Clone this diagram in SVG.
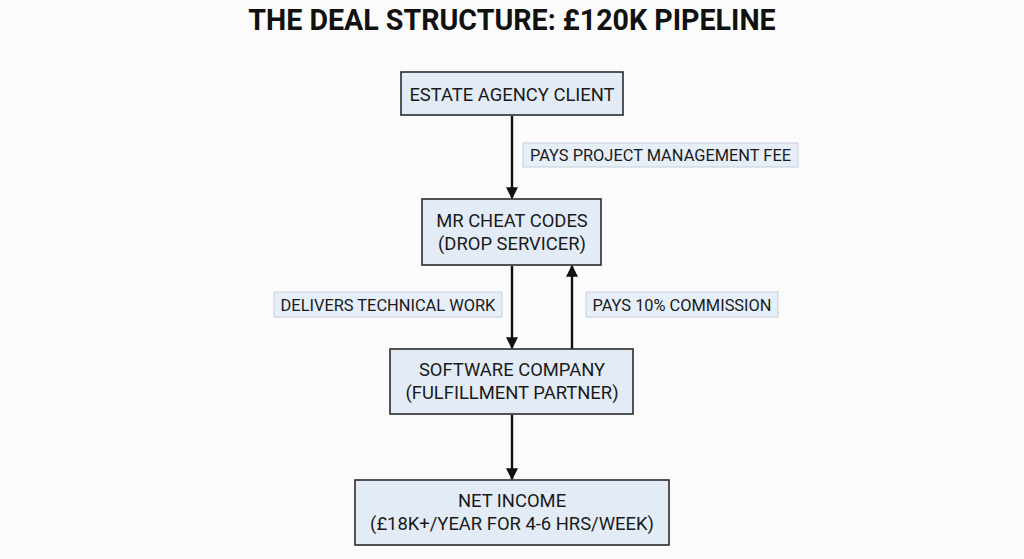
<svg xmlns="http://www.w3.org/2000/svg" width="1024" height="559" viewBox="0 0 1024 559">
<defs>
<style>
.node rect{fill:#e3ecf6;stroke:#2b2b2b;stroke-width:1.6}
.node text{font-family:Roboto,"Liberation Sans",sans-serif;font-size:18.4px;fill:#1a1a1a;text-anchor:middle}
.lbl rect{fill:#e6eef8;stroke:#c5cfdb;stroke-width:1}
.lbl text{font-family:Roboto,"Liberation Sans",sans-serif;font-size:16.4px;fill:#1a1a1a;text-anchor:middle}
.edge{stroke:#111;stroke-width:2.4;fill:none;marker-end:url(#ah)}
</style>
<marker id="ah" viewBox="0 0 10 10" refX="9" refY="5" markerWidth="5" markerHeight="5" orient="auto" markerUnits="strokeWidth">
<path d="M0,0 L10,5 L0,10 z" fill="#111"/>
</marker>
</defs>
<rect width="1024" height="559" fill="#fbfbfb"/>
<text x="512" y="30" font-family="Roboto,'Liberation Sans',sans-serif" font-weight="bold" font-size="28.6" text-anchor="middle" fill="#111">THE DEAL STRUCTURE: £120K PIPELINE</text>
<g id="connectors">
<line class="edge" x1="512" y1="116" x2="512" y2="198"/>
<line class="edge" x1="512" y1="266" x2="512" y2="348"/>
<line class="edge" x1="572" y1="349" x2="572" y2="266"/>
<line class="edge" x1="512" y1="415" x2="512" y2="479"/>
</g>
<g id="label-fee" class="lbl"><rect x="523" y="143" width="275" height="24"/><text x="660.5" y="161">PAYS PROJECT MANAGEMENT FEE</text></g>
<g id="label-work" class="lbl"><rect x="274" y="292" width="228" height="25"/><text x="388" y="310.5">DELIVERS TECHNICAL WORK</text></g>
<g id="label-comm" class="lbl"><rect x="586" y="292" width="192" height="25"/><text x="682" y="310.5">PAYS 10% COMMISSION</text></g>
<g id="client" class="node"><rect x="401" y="72" width="222" height="43"/><text x="512" y="100.5">ESTATE AGENCY CLIENT</text></g>
<g id="mrcheat" class="node"><rect x="422" y="199" width="179" height="66"/><text x="512" y="227">MR CHEAT CODES</text><text x="512" y="250">(DROP SERVICER)</text></g>
<g id="software" class="node"><rect x="390" y="349" width="243" height="65"/><text x="512" y="376">SOFTWARE COMPANY</text><text x="512" y="399">(FULFILLMENT PARTNER)</text></g>
<g id="income" class="node"><rect x="355" y="480" width="314" height="65"/><text x="512" y="507">NET INCOME</text><text x="512" y="530">(£18K+/YEAR FOR 4-6 HRS/WEEK)</text></g>
</svg>
